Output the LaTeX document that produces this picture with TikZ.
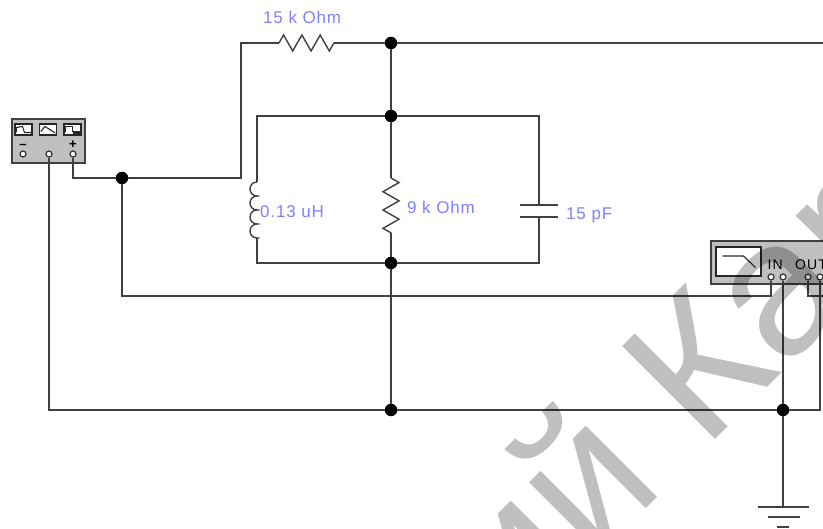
\documentclass[tikz,border=0pt]{standalone}
\usepackage{fontspec}
\setmainfont{Liberation Sans}
\newfontfamily\lblfont[LetterSpace=5]{Liberation Sans}
\newfontfamily\pinfont[LetterSpace=8]{Liberation Sans}
\usetikzlibrary{positioning,calc,decorations.pathmorphing}

\begin{document}
\begin{tikzpicture}[x=1pt,y=-1pt,%
        wire/.style={draw=black!75, line width=1.6pt},
        thin wire/.style={draw=black!85, line width=1.1pt},
        junction/.style={circle, fill=black, inner sep=0pt, minimum size=12.5pt},
        pin/.style={circle, draw=black!80, fill=white, line width=1.2pt, inner sep=0pt, minimum size=6pt},
        instr/.style={draw=black!75, fill=black!25, line width=1.6pt, inner sep=0pt, anchor=north west},
        icon/.style={draw=black!85, fill=white, line width=1.5pt, inner sep=0pt, minimum width=17pt, minimum height=11pt},
        lbl/.style={text=blue!50, font=\lblfont\fontsize{17}{18}\selectfont, inner sep=0pt, anchor=base west},
        pinlbl/.style={font=\pinfont\fontsize{14}{14}\selectfont, inner sep=0pt, anchor=base west},
        zig/.style={wire, line width=1.4pt, decorate, decoration={zigzag, segment length=18.3pt, amplitude=8pt}},
        ]
        \useasboundingbox (0,0) rectangle (823,529);
        \clip (0,0) rectangle (823,529);
        % instruments
        \node[instr, minimum width=73pt, minimum height=44pt] (gen) at (11,118) {};
        \node[instr, minimum width=130pt, minimum height=43pt] (bode) at (710,240) {};
        \node[icon] (sine) at (23.5,129.5) {};
        \node[icon] (tri) at (48,129.5) {};
        \node[icon] (sq) at (72.5,129.5) {};
        \node[draw=black!85, line width=1.4pt, inner sep=0pt, minimum width=45pt, minimum height=29pt, fill=white] (scr) at (738.5,261.5) {};
        \draw[thin wire] ($(sine.west)+(2,3)$) -- ($(sine.west)+(2,-2)$) -- ($(sine.center)+(-1,-3)$) -- ($(sine.center)+(1,3)$) -- ($(sine.east)+(-2,3)$);
        \draw[thin wire] ($(tri.west)+(2,2)$) -- ($(tri.center)+(-3,-3)$) -- ($(tri.east)+(-2,3.5)$);
        \draw[thin wire] ($(sq.west)+(2,3)$) |- ($(sq.center)+(0,-3)$) -- ($(sq.center)+(0,2)$) -- ($(sq.east)+(-2,2)$);
        \fill[black!85] ($(sq.center)+(0,2)$) rectangle (sq.south east);
        \draw[thin wire] ($(scr.center)+(-16,-5.5)$) -- ($(scr.center)+(5,-5.5)$) -- ($(scr.center)+(17,6)$);
        % terminals
        \node[pin] (gm) at (23,154) {};
        \node[pin] (gc) at (49,154) {};
        \node[pin] (gp) at (73,154) {};
        \node[above=1.5pt of gm, font=\bfseries\fontsize{13}{13}\selectfont, inner sep=0pt] (minus) {--};
        \node[above=1.5pt of gp, font=\bfseries\fontsize{13}{13}\selectfont, inner sep=0pt] (plus) {+};
        \node[pin] (in1) at (771,277) {};
        \node[pin] (in2) at (783,277) {};
        \node[pin] (out1) at (808,277) {};
        \node[pin] (out2) at (820,277) {};
        \node[pinlbl] (intxt) at (767.5,270) {IN};
        \node[pinlbl] (outtxt) at (795,270) {OUT};
        % junctions
        \node[junction] (j1) at (122,178) {};
        \node[junction] (top) at (391,43) {};
        \node[junction] (tank) at (391,116) {};
        \node[junction] (bot) at (391,263) {};
        \node[junction] (gnd) at (391,410) {};
        \node[junction] (jr) at (783,410) {};
        % fixed points of the parts
        \coordinate (r1a) at (279,43);
        \coordinate (r1b) at (334,43);
        \coordinate (r2a) at (391,178);
        \coordinate (r2b) at (391,233);
        \coordinate (la) at (257,182);
        \coordinate (lb) at (257,238);
        \coordinate (ca) at (539,205);
        \coordinate (cb) at (539,217);
        \coordinate (g1) at (783,507);
        \coordinate (ink) at (771,296);
        % wires
        \draw[wire] (gp) |- (j1);
        \draw[wire] (j1) -| (241,43) -- (r1a);
        \draw[zig] (r1a) -- (r1b);
        \draw[wire] (r1b) -- (top) -- (823,43);
        \draw[wire] (top) -- (tank) -- (r2a);
        \draw[zig] (r2a) -- (r2b);
        \draw[wire] (r2b) -- (bot) -- (gnd);
        \draw[wire] (tank) -| (la);
        \draw[wire, line width=1.4pt] (la) foreach \i in {1,...,4} {arc[start angle=90, end angle=270, radius=7pt] -- ++(2.5,0) -- ++(-2.5,0)};
        \draw[wire] (lb) |- (bot);
        \draw[wire] (tank) -| (ca);
        \draw[wire] (bot) -| (cb);
        \draw[wire] ($(ca)+(-19,0)$) -- ($(ca)+(19,0)$);
        \draw[wire] ($(cb)+(-19,0)$) -- ($(cb)+(19,0)$);
        \draw[wire] (j1) |- (ink) -- (in1);
        \draw[wire] (gc) |- (gnd);
        \draw[wire] (gnd) -- (jr) -| (out2);
        \draw[wire] (in2) -- (jr) -- (g1);
        \draw[wire] (out1) |- (823,296);
        \draw[wire] ($(g1)+(-25,0)$) -- ($(g1)+(26,0)$);
        \draw[wire] ($(g1)+(-15,10)$) -- ($(g1)+(17,10)$);
        \draw[wire] ($(g1)+(-6,20)$) -- ($(g1)+(6,20)$);
        % values
        \node[lbl] (rs) at (263,24) {15 k Ohm};
        \node[lbl] (lv) at (260,218) {0.13 uH};
        \node[lbl] (rv) at (407,214) {9 k Ohm};
        \node[lbl] (cv) at (566,220) {15 pF};
        % mark over the page
        \begin{scope}[blend mode=multiply]
          \node[rotate=45, anchor=base west, inner sep=0pt, text=black!25, font=\fontsize{191}{191}\selectfont] (mark) at (516,639) {ий Кар};
        \end{scope}
\end{tikzpicture}
\end{document}
